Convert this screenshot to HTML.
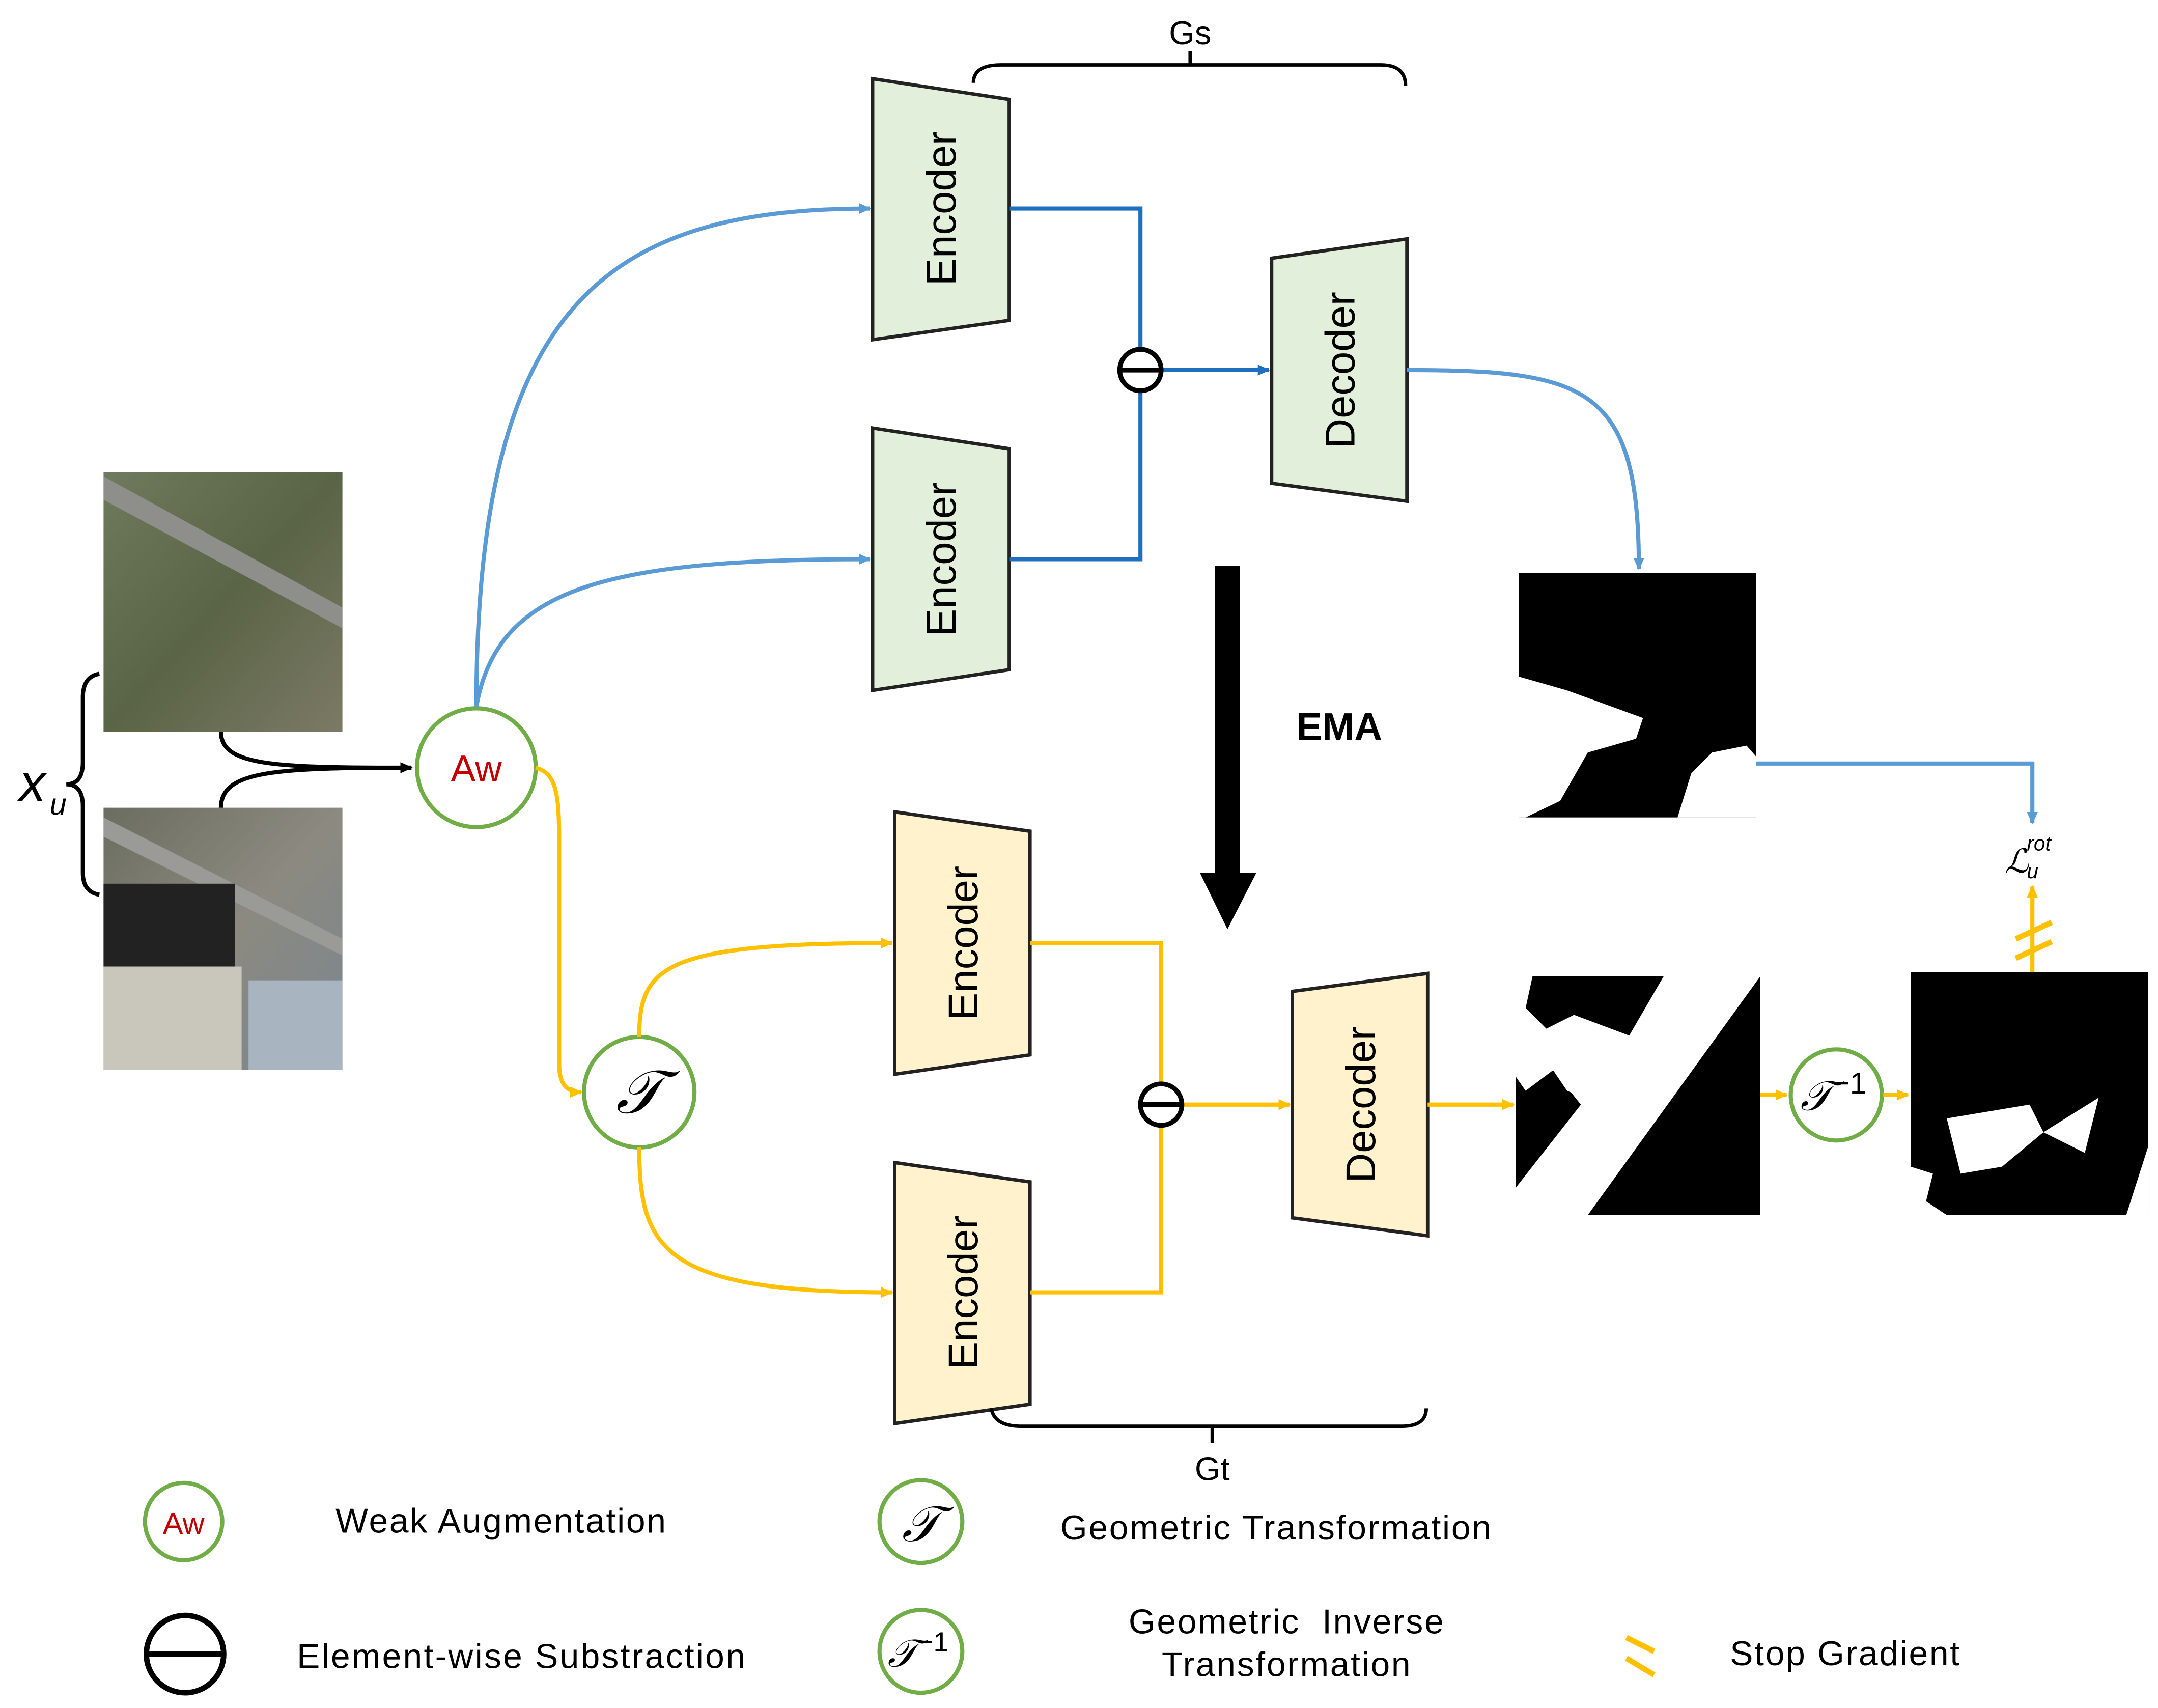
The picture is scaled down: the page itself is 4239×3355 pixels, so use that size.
<!DOCTYPE html>
<html><head><meta charset="utf-8"><style>
html,body{margin:0;padding:0;background:#fff;}
svg{display:block;}
text{font-family:"Liberation Sans",sans-serif;}
</style></head><body>
<svg width="4239" height="3355" viewBox="0 0 1563 1237" xmlns="http://www.w3.org/2000/svg">
<defs>
<marker id="ab" markerWidth="10" markerHeight="10" refX="8" refY="5" orient="auto" markerUnits="userSpaceOnUse"><path d="M0,1 L9,5 L0,9 z" fill="#5b9bd5"/></marker>
<marker id="ad" markerWidth="10" markerHeight="10" refX="8" refY="5" orient="auto" markerUnits="userSpaceOnUse"><path d="M0,1 L9,5 L0,9 z" fill="#1f6fbf"/></marker>
<marker id="ay" markerWidth="10" markerHeight="10" refX="8" refY="5" orient="auto" markerUnits="userSpaceOnUse"><path d="M0,1 L9,5 L0,9 z" fill="#ffc000"/></marker>
<marker id="ak" markerWidth="10" markerHeight="10" refX="8" refY="5" orient="auto" markerUnits="userSpaceOnUse"><path d="M0,1 L9,5 L0,9 z" fill="#000"/></marker>
<linearGradient id="s1" x1="0" y1="0" x2="1" y2="1"><stop offset="0" stop-color="#6f7a5e"/><stop offset="0.5" stop-color="#5a6446"/><stop offset="1" stop-color="#7c7a66"/></linearGradient>
<linearGradient id="s2" x1="0" y1="0" x2="1" y2="1"><stop offset="0" stop-color="#6b6d60"/><stop offset="0.5" stop-color="#8c8a80"/><stop offset="1" stop-color="#7a8590"/></linearGradient>
</defs>

<rect x="75" y="342" width="173" height="188" fill="url(#s1)"/>
<path d="M75,345 L248,440 L248,455 L75,362 z" fill="#8e8e8a"/>
<rect x="75" y="585" width="173" height="190" fill="url(#s2)"/>
<path d="M75,592 L248,680 L248,692 L75,606 z" fill="#9a9a96"/>
<rect x="75" y="640" width="95" height="60" fill="#222"/>
<rect x="75" y="700" width="100" height="75" fill="#c9c6bc"/>
<rect x="180" y="710" width="68" height="65" fill="#a8b4c0"/>

<path d="M72,488 Q60,490 60,505 L60,552 Q60,568 48,568 Q60,568 60,584 L60,632 Q60,646 72,648" fill="none" stroke="#000" stroke-width="3"/>
<text x="14" y="580" font-family="Liberation Serif,serif" font-style="italic" font-size="38">x</text>
<text x="36" y="590" font-family="Liberation Serif,serif" font-style="italic" font-size="22">u</text>
<path d="M160,530 C160,555 200,556 298,556" fill="none" stroke="#000" stroke-width="3" marker-end="url(#ak)"/>
<path d="M160,585 C160,558 200,556 298,556" fill="none" stroke="#000" stroke-width="3"/>

<circle cx="345" cy="556" r="43" fill="#fff" stroke="#70ad47" stroke-width="3"/>
<text x="345" y="566" text-anchor="middle" font-size="27" fill="#c00000">Aw</text>

<path d="M345,512 C345,220 440,151 630,151" fill="none" stroke="#5b9bd5" stroke-width="3" marker-end="url(#ab)"/>
<path d="M345,512 C360,425 440,405 630,405" fill="none" stroke="#5b9bd5" stroke-width="3" marker-end="url(#ab)"/>

<polygon points="632,57 731,72 731,232 632,246" fill="#e2efda" stroke="#222" stroke-width="2.5"/>
<text transform="translate(692,151) rotate(-90)" text-anchor="middle" font-size="30">Encoder</text>
<polygon points="632,310 731,325 731,485 632,500" fill="#e2efda" stroke="#222" stroke-width="2.5"/>
<text transform="translate(692,405) rotate(-90)" text-anchor="middle" font-size="30">Encoder</text>
<polygon points="921,187 1019,173 1019,363 921,350" fill="#e2efda" stroke="#222" stroke-width="2.5"/>
<text transform="translate(981,268) rotate(-90)" text-anchor="middle" font-size="30">Decoder</text>

<path d="M731,151 L826,151 L826,253" fill="none" stroke="#1f6fbf" stroke-width="3"/>
<path d="M731,405 L826,405 L826,283" fill="none" stroke="#1f6fbf" stroke-width="3"/>
<path d="M841,268 L919,268" fill="none" stroke="#1f6fbf" stroke-width="3" marker-end="url(#ad)"/>
<circle cx="826" cy="268" r="15" fill="#fff" stroke="#000" stroke-width="3.5"/>
<line x1="811" y1="268" x2="841" y2="268" stroke="#000" stroke-width="3.5"/>

<path d="M1019,268 C1150,268 1187,280 1187,412" fill="none" stroke="#5b9bd5" stroke-width="3" marker-end="url(#ab)"/>

<path d="M705,60 Q705,47 725,47 L1000,47 Q1018,47 1018,62" fill="none" stroke="#000" stroke-width="2.5"/>
<line x1="862" y1="47" x2="862" y2="37" stroke="#000" stroke-width="2.5"/>
<text x="862" y="32" text-anchor="middle" font-size="24">Gs</text>

<rect x="1100" y="415" width="172" height="177" fill="#000"/>
<path d="M1100,490 L1135,500 L1190,520 L1185,535 L1150,545 L1130,580 L1105,592 L1100,592 z" fill="#fff"/>
<path d="M1215,592 L1225,560 L1240,545 L1265,540 L1272,548 L1272,592 z" fill="#fff"/>
<path d="M1272,553 L1472,553 L1472,596" fill="none" stroke="#5b9bd5" stroke-width="3" marker-end="url(#ab)"/>

<text x="1452" y="632" font-family="Liberation Serif,serif" font-style="italic" font-size="24">ℒ</text>
<text x="1468" y="636" font-family="Liberation Serif,serif" font-style="italic" font-size="15">u</text>
<text x="1468" y="616" font-family="Liberation Serif,serif" font-style="italic" font-size="15">rot</text>
<path d="M1472,705 L1472,642" fill="none" stroke="#ffc000" stroke-width="3" marker-end="url(#ay)"/>
<line x1="1460" y1="680" x2="1486" y2="668" stroke="#ffc000" stroke-width="4"/>
<line x1="1460" y1="694" x2="1486" y2="682" stroke="#ffc000" stroke-width="4"/>

<rect x="880" y="410" width="18" height="225" fill="#000"/>
<polygon points="869,632 910,632 889,673" fill="#000"/>
<text x="970" y="536" text-anchor="middle" font-family="Liberation Serif,serif" font-weight="bold" font-size="28">EMA</text>

<path d="M388,556 C403,560 405,575 405,610 L405,770 C405,785 410,791 421,791" fill="none" stroke="#ffc000" stroke-width="3" marker-end="url(#ay)"/>
<circle cx="463" cy="791" r="40" fill="#fff" stroke="#70ad47" stroke-width="3"/>
<text x="463" y="806" text-anchor="middle" font-family="Liberation Serif,serif" font-style="italic" font-size="44">𝒯</text>
<path d="M463,751 C463,700 480,683 646,683" fill="none" stroke="#ffc000" stroke-width="3" marker-end="url(#ay)"/>
<path d="M463,831 C463,905 480,936 646,936" fill="none" stroke="#ffc000" stroke-width="3" marker-end="url(#ay)"/>

<polygon points="648,588 746,602 746,764 648,778" fill="#fff2cc" stroke="#222" stroke-width="2.5"/>
<text transform="translate(708,683) rotate(-90)" text-anchor="middle" font-size="30">Encoder</text>
<polygon points="648,842 746,856 746,1017 648,1031" fill="#fff2cc" stroke="#222" stroke-width="2.5"/>
<text transform="translate(708,936) rotate(-90)" text-anchor="middle" font-size="30">Encoder</text>
<polygon points="936,718 1034,705 1034,895 936,882" fill="#fff2cc" stroke="#222" stroke-width="2.5"/>
<text transform="translate(996,800) rotate(-90)" text-anchor="middle" font-size="30">Decoder</text>

<path d="M746,683 L841,683 L841,785" fill="none" stroke="#ffc000" stroke-width="3"/>
<path d="M746,936 L841,936 L841,815" fill="none" stroke="#ffc000" stroke-width="3"/>
<path d="M856,800 L934,800" fill="none" stroke="#ffc000" stroke-width="3" marker-end="url(#ay)"/>
<circle cx="841" cy="800" r="15" fill="#fff" stroke="#000" stroke-width="3.5"/>
<line x1="826" y1="800" x2="856" y2="800" stroke="#000" stroke-width="3.5"/>
<path d="M1034,800 L1096,800" fill="none" stroke="#ffc000" stroke-width="3" marker-end="url(#ay)"/>

<path d="M718,1020 Q720,1033 740,1033 L1015,1033 Q1033,1033 1033,1020" fill="none" stroke="#000" stroke-width="2.5"/>
<line x1="878" y1="1033" x2="878" y2="1045" stroke="#000" stroke-width="2.5"/>
<text x="878" y="1072" text-anchor="middle" font-size="24">Gt</text>

<rect x="1098" y="707" width="177" height="173" fill="#000"/>
<path d="M1098,707 L1110,707 L1105,730 L1120,745 L1140,735 L1180,750 L1205,707 L1275,707 L1275,707 L1150,880 L1098,880 L1098,860 L1145,800 L1125,775 L1105,790 L1098,780 z" fill="#fff"/>
<path d="M1118,765 L1160,750 L1180,760 L1160,800 L1135,790 z" fill="#fff"/>
<path d="M1275,793 L1294,793" fill="none" stroke="#ffc000" stroke-width="3" marker-end="url(#ay)"/>
<circle cx="1330" cy="793" r="33" fill="#fff" stroke="#70ad47" stroke-width="3"/>
<text x="1328" y="804" text-anchor="middle" font-family="Liberation Serif,serif" font-style="italic" font-size="30">𝒯<tspan font-style="normal" font-size="22" dy="-12">−1</tspan></text>
<path d="M1364,793 L1382,793" fill="none" stroke="#ffc000" stroke-width="3" marker-end="url(#ay)"/>

<rect x="1384" y="704" width="172" height="176" fill="#000"/>
<path d="M1410,810 L1470,800 L1480,820 L1450,845 L1420,850 z" fill="#fff"/>
<path d="M1480,820 L1520,795 L1510,835 z" fill="#fff"/>
<path d="M1384,880 L1384,845 L1400,850 L1395,870 L1410,880 z" fill="#fff"/>
<path d="M1540,880 L1556,830 L1556,880 z" fill="#fff"/>

<circle cx="133" cy="1102" r="28" fill="#fff" stroke="#70ad47" stroke-width="3"/>
<text x="133" y="1111" text-anchor="middle" font-size="22" fill="#c00000">Aw</text>
<text x="243" y="1110" font-size="25" letter-spacing="1">Weak Augmentation</text>
<circle cx="667" cy="1102" r="30" fill="#fff" stroke="#70ad47" stroke-width="3"/>
<text x="667" y="1116" text-anchor="middle" font-family="Liberation Serif,serif" font-style="italic" font-size="36">𝒯</text>
<text x="768" y="1115" font-size="25" letter-spacing="1">Geometric Transformation</text>
<circle cx="134" cy="1198" r="28" fill="#fff" stroke="#000" stroke-width="4"/>
<line x1="106" y1="1198" x2="162" y2="1198" stroke="#000" stroke-width="4"/>
<text x="215" y="1208" font-size="25" letter-spacing="1.2">Element-wise Substraction</text>
<circle cx="667" cy="1196" r="30" fill="#fff" stroke="#70ad47" stroke-width="3"/>
<text x="665" y="1207" text-anchor="middle" font-family="Liberation Serif,serif" font-style="italic" font-size="28">𝒯<tspan font-style="normal" font-size="20" dy="-11">−1</tspan></text>
<text x="932" y="1183" text-anchor="middle" font-size="25" letter-spacing="1" xml:space="preserve">Geometric  Inverse</text>
<text x="932" y="1214" text-anchor="middle" font-size="25" letter-spacing="1">Transformation</text>
<line x1="1178" y1="1186" x2="1198" y2="1196" stroke="#ffc000" stroke-width="4"/>
<line x1="1178" y1="1201" x2="1198" y2="1213" stroke="#ffc000" stroke-width="4"/>
<text x="1253" y="1206" font-size="25" letter-spacing="1">Stop Gradient</text>
</svg>
</body></html>
